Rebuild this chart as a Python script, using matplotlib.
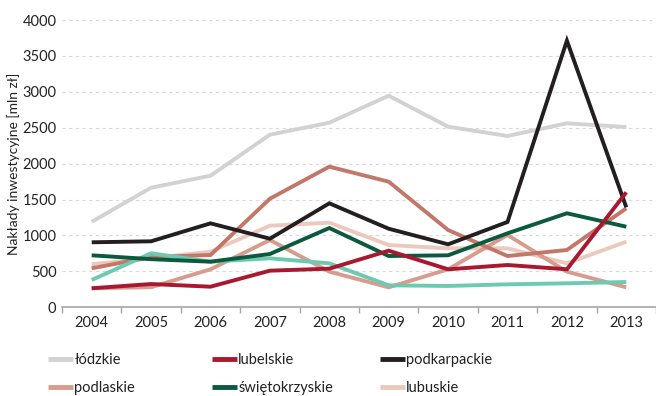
import matplotlib
matplotlib.use("Agg")
import matplotlib.pyplot as plt
from matplotlib.ticker import MultipleLocator

plt.rcParams['font.family'] = ['Lato', 'DejaVu Sans']

years = ["2004", "2005", "2006", "2007", "2008", "2009", "2010", "2011", "2012", "2013"]

lodzkie = [1190, 1665, 1832, 2403, 2570, 2946, 2515, 2385, 2562, 2510]
lubelskie = [265, 324, 287, 510, 538, 788, 529, 589, 529, 1601]
podkarpackie = [905, 919, 1169, 955, 1448, 1094, 877, 1188, 3712, 1392]
podlaskie = [265, 280, 529, 937, 496, 278, 529, 1007, 496, 278]
swietokrzyskie = [724, 670, 635, 742, 1104, 714, 724, 1030, 1309, 1122]
lubuskie = [600, 682, 774, 1136, 1178, 867, 821, 821, 612, 913]
region_g = [543, 700, 728, 1512, 1958, 1749, 1076, 714, 798, 1378]
region_h = [380, 752, 635, 682, 612, 306, 297, 320, 334, 352]

# (values, colour, legend label) in drawing order, bottom to top
series = [
    (lubuskie, "#ebc9bd", "lubuskie"),
    (podlaskie, "#d79c8e", "podlaskie"),
    (lodzkie, "#d2d2d3", "łódzkie"),
    (region_g, "#c27769", None),
    (region_h, "#6ec9b1", None),
    (swietokrzyskie, "#0b5a3e", "świętokrzyskie"),
    (podkarpackie, "#231f20", "podkarpackie"),
    (lubelskie, "#a8182f", "lubelskie"),
]

W, H = 656, 396
fig = plt.figure(figsize=(W / 100, H / 100), dpi=100)
ax = fig.add_axes([62 / W, 1 - 307.3 / H, 1 - 62 / W, (307.3 - 20) / H])

x = list(range(len(years)))
handles = {}
for vals, col, lab in series:
    ln, = ax.plot(x, vals, color=col, lw=2.8, solid_joinstyle="miter",
                  solid_capstyle="butt", zorder=3)
    if lab:
        handles[lab] = ln

ax.set_ylim(0, 4000)
ax.set_xlim(-0.5, len(years) - 0.5)
ax.yaxis.set_major_locator(MultipleLocator(500))
ax.set_xticks(x)
ax.set_xticklabels(years)
ax.set_xticks([i - 0.5 for i in range(len(years) + 1)], minor=True)
ax.tick_params(axis="x", which="major", length=0, pad=6, labelsize=10.5, colors="#222222")
ax.tick_params(axis="x", which="minor", length=4, width=1, color="#a6a6a6")
ax.tick_params(axis="y", length=0, pad=4, labelsize=10.5, colors="#222222")

for v in range(500, 4001, 500):
    ax.axhline(v, color="#d9d9d9", lw=0.8, ls=(0, (3, 3)), zorder=1)

for s in ("top", "right", "left"):
    ax.spines[s].set_visible(False)
ax.spines["bottom"].set_color("#a6a6a6")
ax.spines["bottom"].set_linewidth(1.2)

fig.text(14 / W, 1 - 164 / H, "Nakłady inwestycyjne [mln zł]",
         rotation=90, ha="center", va="center", fontsize=10, color="#222222")

# Legend in three columns, two rows
columns = [("łódzkie", "podlaskie"), ("lubelskie", "świętokrzyskie"), ("podkarpackie", "lubuskie")]
col_x = [48, 212, 380]
for cx, labs in zip(col_x, columns):
    leg = fig.legend([handles[l] for l in labs], labs, loc="upper left",
                     bbox_to_anchor=(cx / W, 1 - 353 / H), frameon=False,
                     fontsize=10.5, handlelength=1.72, handletextpad=0.08,
                     labelspacing=0.98, borderaxespad=0, borderpad=0)
    for t in leg.get_texts():
        t.set_color("#222222")
    for h in leg.legend_handles:
        h.set_linewidth(3.5)

fig.savefig("out.png", dpi=100)
